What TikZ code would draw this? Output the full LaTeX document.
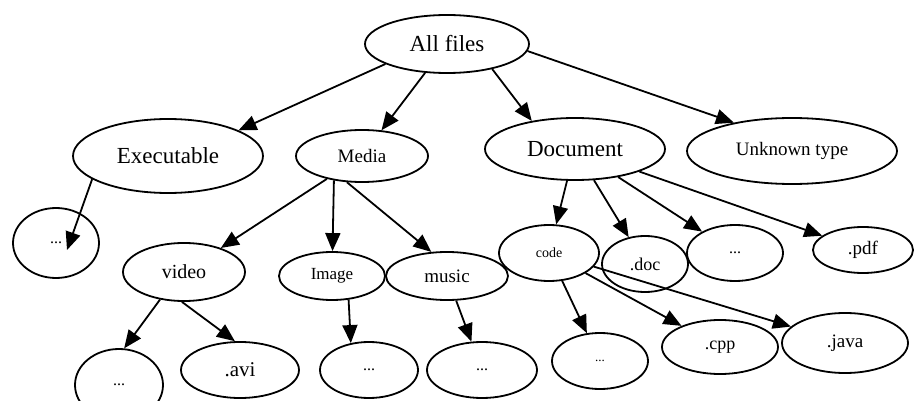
\documentclass[tikz,border=0pt]{standalone}
\usepackage{fontspec}
\setmainfont{Liberation Serif}
\usetikzlibrary{shapes.geometric,arrows.meta}
\tikzset{
  fnode/.style={ellipse, draw, line width=1.8pt, inner sep=0pt},
  edge/.style={line width=1.8pt, -{Triangle[length=18pt,width=15pt]}},
}
\newcommand{\fs}[1]{\fontsize{#1}{#1}\selectfont}
\begin{document}
\begin{tikzpicture}[x=1pt,y=-1pt]
\useasboundingbox (0,0) rectangle (914,401);
\node[fnode, minimum width=164pt, minimum height=58pt] (all) at (447,44) {\fs{23}All files};
\node[fnode, minimum width=190pt, minimum height=74pt] (exe) at (168,156) {\fs{23}Executable};
\node[fnode, minimum width=132pt, minimum height=52pt] (media) at (362,156) {\fs{19}Media};
\node[fnode, minimum width=180pt, minimum height=62pt] (doc) at (575,149) {\fs{23}Document};
\node[fnode, minimum width=210pt, minimum height=66pt] (unk) at (792,151) {\fs{19}Unknown type};
\node[fnode, minimum width=86pt, minimum height=70pt] (d1) at (56,243) {\fs{16}...};
\node[fnode, minimum width=122pt, minimum height=58pt] (video) at (184,272) {\fs{20}video};
\node[fnode, minimum width=106pt, minimum height=48pt] (image) at (332,276) {\fs{17}Image};
\node[fnode, minimum width=122pt, minimum height=48pt] (music) at (447,276) {\fs{19}music};
\node[fnode, minimum width=88pt, minimum height=72pt] (d2) at (119,385) {\fs{16}...};
\node[fnode, minimum width=118pt, minimum height=56pt] (avi) at (240,370) {\fs{21}.avi};
\node[fnode, minimum width=98pt, minimum height=56pt] (d3) at (369,370) {\fs{16}...};
\node[fnode, minimum width=110pt, minimum height=56pt] (d4) at (482,370) {\fs{16}...};
\node[fnode, minimum width=100pt, minimum height=56pt] (code) at (549,253) {\fs{14}code};
\node[fnode, minimum width=86pt, minimum height=56pt] (dotdoc) at (645,264) {\fs{18}.doc};
\node[fnode, minimum width=96pt, minimum height=56pt] (d5) at (735,253) {\fs{16}...};
\node[fnode, minimum width=100pt, minimum height=46pt] (pdf) at (863,250) {\fs{19}.pdf};
\node[fnode, minimum width=96pt, minimum height=56pt] (d6) at (600,361) {\fs{13}...};
\node[fnode, minimum width=116pt, minimum height=54pt] (cpp) at (720,347) {\fs{18}.cpp};
\node[fnode, minimum width=126pt, minimum height=60pt] (java) at (845,343) {\fs{19}.java};
\coordinate (d1tip) at (67,250);
\draw[edge] (all.198) -- (exe.20);
\draw[edge] (all) -- (media);
\draw[edge] (all.331) -- (doc.147);
\draw[edge] (all.355) -- (unk.154);
\draw[edge] (exe.197) -- (d1tip);
\draw[edge] (media) -- (video);
\draw[edge] (media.221) -- (image);
\draw[edge] (media.240) -- (music.123);
\draw[edge] (video.229) -- (d2.82);
\draw[edge] (video.266) -- (avi.100);
\draw[edge] (image.305) -- (d3.124);
\draw[edge] (music) -- (d4);
\draw[edge] (doc) -- (code);
\draw[edge] (doc) -- (dotdoc);
\draw[edge] (doc) -- (d5);
\draw[edge] (doc) -- (pdf);
\draw[edge] (code) -- (d6);
\draw[edge] (code) -- (cpp);
\draw[edge] (code) -- (java);
\end{tikzpicture}
\end{document}
